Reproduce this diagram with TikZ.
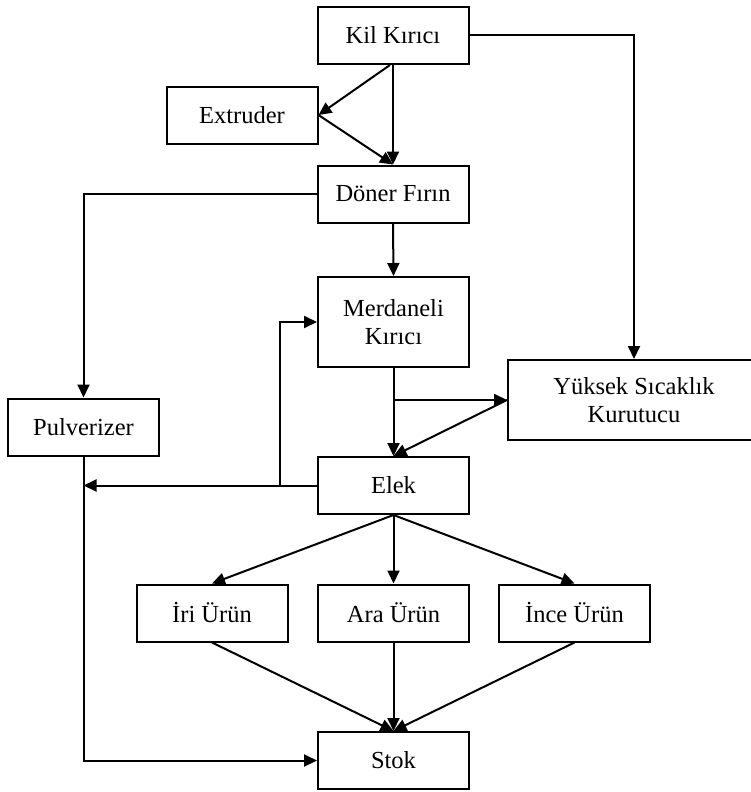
\documentclass[tikz,border=0pt]{standalone}
\usepackage{fontspec}
\setmainfont{Liberation Serif}
\usetikzlibrary{arrows.meta}
\begin{document}
\begin{tikzpicture}[x=1pt,y=-1pt,
  box/.style={draw, line width=2pt, minimum width=#1, minimum height=57pt,
    inner sep=0pt, align=center, font=\fontsize{24.5}{28}\selectfont},
  box/.default=151pt,
  flow/.style={line width=2pt, -{Triangle[length=13pt,width=12pt]}}]
\useasboundingbox (0,0) rectangle (751,792);
\clip (0,0) rectangle (751,792);

% process boxes
\node[box] (kil) at (393,35.5) {Kil Kırıcı};
\node[box] (ext) at (242,115) {Extruder};
\node[box] (doner) at (393,194) {Döner Fırın};
\node[box, minimum height=90pt] (merd) at (393.5,322) {Merdaneli\\Kırıcı};
\node[box=252pt, minimum height=80pt] (yuk) at (634,400) {Yüksek Sıcaklık\\Kurutucu};
\node[box] (pulv) at (83.5,427) {Pulverizer};
\node[box] (elek) at (393.5,485.5) {Elek};
\node[box] (iri) at (212,613) {İri Ürün};
\node[box] (ara) at (393.5,613) {Ara Ürün};
\node[box] (ince) at (574.5,613) {İnce Ürün};
\node[box] (stok) at (393.5,760.5) {Stok};

% branch points
\coordinate (br1) at (393.5,400);
\coordinate (br2) at (280,486);

% upper part
\draw[flow] ([xshift=-3pt]kil.south) -- (ext.east);
\draw[flow] (kil.south) -- (doner.north);
\draw[flow] (ext.east) -- (doner.north);
\draw[flow] (kil.east) -| (yuk.north);
\draw[flow] (doner.west) -| (pulv.north);
\draw[flow] (doner.south) -- (merd.north);

% crusher, dryer and sieve
\draw[flow] (merd.south) -- (elek.north);
\draw[flow] (br1) -- (yuk.west);
\draw[flow] (yuk.west) -- (elek.north);
\draw[flow] (elek.west) -- (pulv.south |- elek.west);
\draw[flow] (br2) |- (merd.west);
\draw[flow] (pulv.south) |- (stok.west);

% products
\draw[flow] (elek.south) -- (iri.north);
\draw[flow] (elek.south) -- (ara.north);
\draw[flow] (elek.south) -- (ince.north);
\draw[flow] (iri.south) -- (stok.north);
\draw[flow] (ara.south) -- (stok.north);
\draw[flow] (ince.south) -- (stok.north);
\end{tikzpicture}
\end{document}
